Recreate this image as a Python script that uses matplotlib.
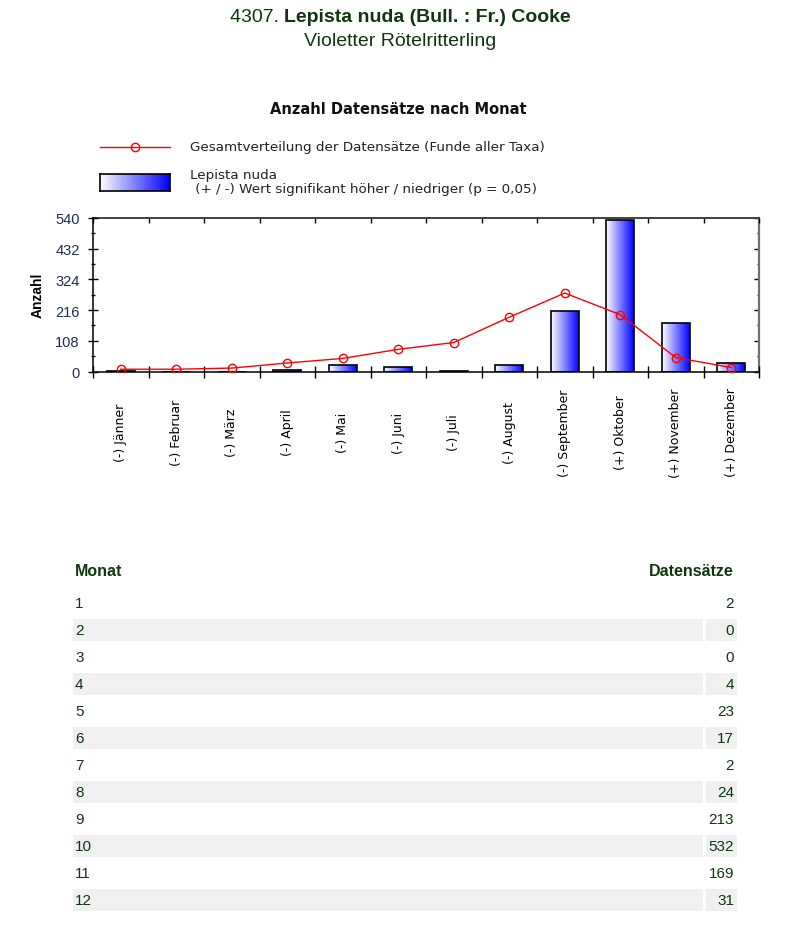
import numpy as np
import matplotlib
matplotlib.use("Agg")
import matplotlib.pyplot as plt
from matplotlib.patches import Rectangle
from matplotlib.lines import Line2D
from matplotlib.transforms import blended_transform_factory

plt.rcParams['font.family'] = ['Liberation Sans', 'DejaVu Sans']

# data
month_names = ["Jänner", "Februar", "März", "April", "Mai", "Juni", "Juli",
               "August", "September", "Oktober", "November", "Dezember"]
signif = ["-", "-", "-", "-", "-", "-", "-", "-", "-", "+", "+", "+"]
records = [2, 0, 0, 4, 23, 17, 2, 24, 213, 532, 169, 31]
overall = [8, 8, 12, 30, 46, 78, 102, 191, 276, 200, 49, 14]  # scaled total distribution
months = list(range(1, 13))

title_num = "4307."
title_name = "Lepista nuda (Bull. : Fr.) Cooke"
subtitle = "Violetter Rötelritterling"

W, H = 800, 937
green = "#0f360f"
tick_col = "#1f2d50"
chart_font = ["DejaVu Sans"]


def fx(px):
    return px / W


def fy(py):
    return 1 - py / H


fig = plt.figure(figsize=(8, 9.37), dpi=100)
renderer = fig.canvas.get_renderer()

# page heading, centred as one line
t_num = fig.text(0, fy(17), title_num + " ", ha="left", va="center", fontsize=14, color=green)
t_name = fig.text(0, fy(17), title_name, ha="left", va="center", fontsize=14,
                  color=green, fontweight="bold")
w_num = t_num.get_window_extent(renderer).width
w_name = t_name.get_window_extent(renderer).width
x_start = 400 - (w_num + w_name) / 2
t_num.set_x(fx(x_start))
t_name.set_x(fx(x_start + w_num))
fig.text(fx(400), fy(41), subtitle, ha="center", va="center", fontsize=14, color=green)

# chart
ax = fig.add_axes([fx(93), fy(372.5), fx(759) - fx(93), fy(219) - fy(372.5)])
ax.set_xlim(0.5, 12.5)
ax.set_ylim(0, 540)

bars = ax.bar(months, records, width=0.5, color="none", edgecolor="black",
              linewidth=1.2, zorder=3)
grad = np.linspace(0, 1, 256).reshape(1, -1)
cmap = matplotlib.colors.LinearSegmentedColormap.from_list("wb", ["#ffffff", "#0000ff"])
for b in bars:
    if b.get_height() <= 0:
        continue
    x0, w, h = b.get_x(), b.get_width(), b.get_height()
    im = ax.imshow(grad, extent=(x0, x0 + w, 0, h), aspect="auto", cmap=cmap,
                   zorder=2, interpolation="bilinear")
    im.set_clip_path(b)

ax.plot(months, overall, color="#ff0000", linewidth=1, marker="o", markersize=6,
        markerfacecolor="none", markeredgecolor="#ff0000", markeredgewidth=1, zorder=4)

yticks = np.arange(0, 541, 108)
yminor = np.arange(54, 541, 108)
xbounds = np.arange(0.5, 12.6, 1)

ax.set_yticks(yticks)
ax.set_yticks(yminor, minor=True)
ax.tick_params(axis="y", which="major", direction="inout", length=7, width=1,
               labelsize=10.5, labelcolor=tick_col, pad=6)
ax.tick_params(axis="y", which="minor", direction="inout", length=3.5, width=1)

ax.set_xticks(xbounds)
ax.set_xticklabels([])
ax.tick_params(axis="x", which="major", direction="inout", length=8, width=1)

# right and top: inward ticks only
ry = ax.secondary_yaxis("right")
ry.set_yticks(yticks)
ry.set_yticks(yminor, minor=True)
ry.tick_params(which="major", direction="in", length=3.6, width=1, labelright=False)
ry.tick_params(which="minor", direction="in", length=1.8, width=1)
tx = ax.secondary_xaxis("top")
tx.set_xticks(xbounds)
tx.tick_params(direction="in", length=3.6, width=1, labeltop=False)
ax.spines["right"].set_visible(False)
ax.spines["top"].set_visible(False)
ry.spines["right"].set_color("#707070")
ry.spines["right"].set_linewidth(1.6)
tx.spines["top"].set_color("#404040")
tx.spines["top"].set_linewidth(1.4)
ax.spines["left"].set_linewidth(1.1)
ax.spines["bottom"].set_linewidth(1.1)

# month labels, centred vertically below the axis
trans = blended_transform_factory(ax.transData, fig.transFigure)
for m, s, name in zip(months, signif, month_names):
    ax.text(m, fy(433), f"({s}) {name}", transform=trans, rotation=90,
            ha="center", va="center", fontsize=9, family=chart_font, color="black")

ax.set_ylabel("Anzahl", fontsize=10, fontweight="bold")
ax.yaxis.set_label_coords((45 - 93) / 666, 0.5)

# chart title and legend
fig.text(fx(398), fy(110), "Anzahl Datensätze nach Monat", ha="center", va="center",
         fontsize=10.5, fontweight="bold", color="#111111", family=chart_font)
fig.add_artist(Line2D([fx(100), fx(170)], [fy(148), fy(148)], color="#ff0000", linewidth=1))
fig.add_artist(Line2D([fx(135)], [fy(148)], color="#ff0000", marker="o", markersize=6,
                      markerfacecolor="none", markeredgewidth=1))
fig.text(fx(190), fy(148), "Gesamtverteilung der Datensätze (Funde aller Taxa)",
         ha="left", va="center", fontsize=9.7, color="#222222", family=chart_font)
lax = fig.add_axes([fx(100), fy(192), fx(170) - fx(100), fy(175) - fy(192)])
lax.imshow(grad, aspect="auto", cmap=cmap, extent=(0, 1, 0, 1))
lax.set_xticks([])
lax.set_yticks([])
for s in lax.spines.values():
    s.set_color("black")
    s.set_linewidth(1.2)
fig.text(fx(190), fy(176), "Lepista nuda", ha="left", va="center", fontsize=9.7,
         color="#222222", family=chart_font)
fig.text(fx(191), fy(190), " (+ / -) Wert signifikant höher / niedriger (p = 0,05)",
         ha="left", va="center", fontsize=9.7, color="#222222", family=chart_font)

# table
fig.text(fx(75), fy(572), "Monat", ha="left", va="center", fontsize=11.5,
         fontweight="bold", color=green)
fig.text(fx(734), fy(572), "Datensätze", ha="right", va="center", fontsize=11.5,
         fontweight="bold", color=green)
row_y0, row_dy = 604, 27
for i, (m, n) in enumerate(zip(months, records)):
    y = row_y0 + i * row_dy
    if i % 2 == 1:
        fig.add_artist(Rectangle((fx(73), fy(y + 11)), fx(703) - fx(73), 22 / H,
                                 transform=fig.transFigure, facecolor="#f0f0f0",
                                 edgecolor="none", zorder=0))
        fig.add_artist(Rectangle((fx(706), fy(y + 11)), fx(737) - fx(706), 22 / H,
                                 transform=fig.transFigure, facecolor="#f0f0f0",
                                 edgecolor="none", zorder=0))
    fig.text(fx(75), fy(y), str(m), ha="left", va="center", fontsize=11, color=green)
    fig.text(fx(734), fy(y), str(n), ha="right", va="center", fontsize=11, color=green)

fig.savefig("out.png", dpi=100)
